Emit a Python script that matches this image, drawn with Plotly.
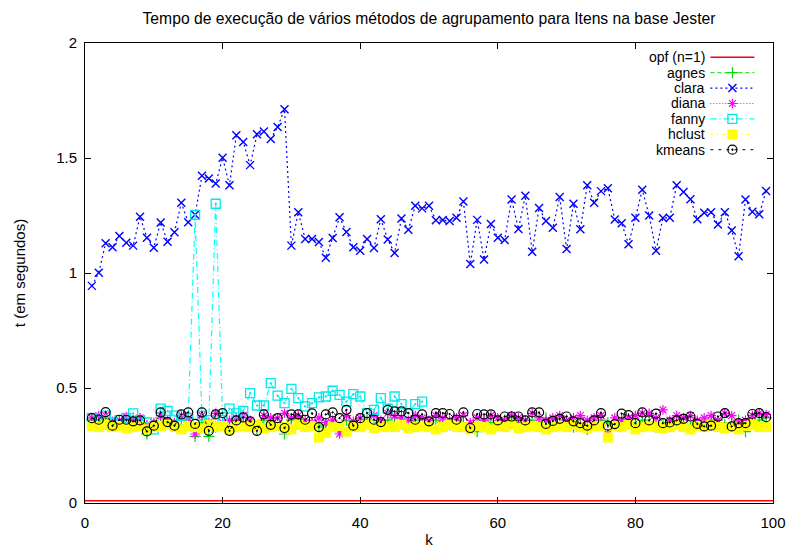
import plotly.graph_objects as go

# Execution time (seconds) of each clustering method, for k = 1..99
k = list(range(1, 100))

opf_time = 0.01  # opf (n=1) does not depend on k

clara = [0.944, 1.001, 1.129, 1.112, 1.161, 1.132, 1.119, 1.245, 1.153, 1.110,
         1.220, 1.136, 1.177, 1.305, 1.221, 1.253, 1.423, 1.411, 1.389, 1.501,
         1.382, 1.599, 1.570, 1.469, 1.603, 1.615, 1.583, 1.635, 1.712, 1.119,
         1.264, 1.148, 1.148, 1.135, 1.066, 1.152, 1.242, 1.178, 1.112, 1.097,
         1.148, 1.109, 1.234, 1.146, 1.087, 1.237, 1.188, 1.292, 1.281, 1.292,
         1.229, 1.230, 1.226, 1.240, 1.311, 1.039, 1.231, 1.059, 1.213, 1.153,
         1.143, 1.320, 1.191, 1.336, 1.092, 1.283, 1.226, 1.197, 1.330, 1.104,
         1.301, 1.190, 1.382, 1.305, 1.356, 1.368, 1.233, 1.216, 1.125, 1.240,
         1.362, 1.250, 1.097, 1.239, 1.240, 1.382, 1.352, 1.321, 1.234, 1.262,
         1.264, 1.211, 1.264, 1.185, 1.073, 1.320, 1.266, 1.255, 1.357]

agnes = [0.36, 0.35, 0.37, 0.34, 0.355, 0.35, 0.36, 0.35, 0.30, 0.34,
         0.37, 0.35, 0.34, 0.36, 0.37, 0.29, 0.35, 0.29, 0.33, 0.35,
         0.33, 0.36, 0.35, 0.34, 0.32, 0.36, 0.34, 0.35, 0.30, 0.36,
         0.37, 0.34, 0.35, 0.33, 0.34, 0.35, 0.31, 0.36, 0.34, 0.35,
         0.36, 0.33, 0.35, 0.36, 0.37, 0.35, 0.34, 0.36, 0.35, 0.34,
         0.36, 0.35, 0.34, 0.36, 0.35, 0.34, 0.31, 0.36, 0.35, 0.34,
         0.36, 0.37, 0.35, 0.34, 0.36, 0.35, 0.37, 0.34, 0.35, 0.36,
         0.33, 0.35, 0.32, 0.34, 0.36, 0.35, 0.34, 0.36, 0.35, 0.34,
         0.36, 0.35, 0.33, 0.34, 0.35, 0.36, 0.34, 0.33, 0.35, 0.34,
         0.36, 0.35, 0.34, 0.35, 0.36, 0.31, 0.35, 0.36, 0.37]

diana = [0.37, 0.38, 0.38, 0.355, 0.36, 0.375, 0.36, 0.37, 0.34, 0.35,
         0.38, 0.36, 0.35, 0.38, 0.37, 0.30, 0.38, 0.35, 0.39, 0.35,
         0.36, 0.37, 0.38, 0.36, 0.34, 0.38, 0.37, 0.37, 0.39, 0.37,
         0.38, 0.36, 0.35, 0.37, 0.35, 0.36, 0.30, 0.38, 0.355, 0.37,
         0.35, 0.38, 0.36, 0.39, 0.38, 0.37, 0.36, 0.38, 0.37, 0.36,
         0.38, 0.37, 0.36, 0.37, 0.38, 0.35, 0.37, 0.36, 0.38, 0.37,
         0.36, 0.38, 0.37, 0.36, 0.39, 0.37, 0.36, 0.37, 0.38, 0.36,
         0.37, 0.38, 0.36, 0.37, 0.38, 0.30, 0.37, 0.36, 0.37, 0.38,
         0.39, 0.39, 0.37, 0.405, 0.36, 0.38, 0.37, 0.38, 0.36, 0.37,
         0.38, 0.36, 0.39, 0.38, 0.35, 0.36, 0.38, 0.39, 0.385]

# fanny was only run up to k = 49
k_fanny = list(range(1, 50))
fanny = [0.37, 0.36, 0.38, 0.35, 0.36, 0.37, 0.39, 0.36, 0.35, 0.32,
         0.41, 0.40, 0.38, 0.36, 0.37, 1.253, 0.38, 0.36, 1.301, 0.36,
         0.41, 0.39, 0.40, 0.478, 0.424, 0.424, 0.521, 0.467, 0.434, 0.496,
         0.456, 0.42, 0.434, 0.459, 0.463, 0.488, 0.47, 0.441, 0.473, 0.463,
         0.391, 0.405, 0.456, 0.41, 0.463, 0.43, 0.391, 0.43, 0.441]

hclust = [0.335, 0.33, 0.34, 0.33, 0.335, 0.325, 0.33, 0.335, 0.32, 0.33,
          0.335, 0.34, 0.33, 0.32, 0.335, 0.33, 0.325, 0.34, 0.33, 0.335,
          0.32, 0.33, 0.335, 0.33, 0.34, 0.325, 0.33, 0.335, 0.33, 0.32,
          0.34, 0.33, 0.335, 0.285, 0.305, 0.33, 0.335, 0.31, 0.33, 0.33,
          0.34, 0.325, 0.335, 0.33, 0.33, 0.34, 0.325, 0.33, 0.335, 0.33,
          0.32, 0.33, 0.34, 0.33, 0.33, 0.32, 0.335, 0.33, 0.32, 0.335,
          0.33, 0.34, 0.325, 0.33, 0.335, 0.33, 0.32, 0.33, 0.335, 0.33,
          0.34, 0.33, 0.325, 0.335, 0.335, 0.285, 0.335, 0.33, 0.34, 0.32,
          0.33, 0.335, 0.33, 0.325, 0.33, 0.34, 0.33, 0.32, 0.335, 0.33,
          0.34, 0.33, 0.325, 0.33, 0.32, 0.335, 0.34, 0.33, 0.33]

kmeans = [0.369, 0.362, 0.395, 0.336, 0.362, 0.362, 0.355, 0.359, 0.311, 0.336,
          0.394, 0.352, 0.336, 0.385, 0.394, 0.344, 0.394, 0.314, 0.385, 0.391,
          0.314, 0.359, 0.372, 0.355, 0.314, 0.385, 0.340, 0.369, 0.326, 0.385,
          0.385, 0.362, 0.390, 0.330, 0.385, 0.394, 0.369, 0.405, 0.336, 0.369,
          0.391, 0.362, 0.352, 0.405, 0.398, 0.398, 0.391, 0.362, 0.385, 0.355,
          0.391, 0.391, 0.387, 0.362, 0.394, 0.326, 0.387, 0.385, 0.385, 0.359,
          0.376, 0.376, 0.376, 0.359, 0.394, 0.394, 0.344, 0.357, 0.366, 0.376,
          0.355, 0.347, 0.336, 0.359, 0.391, 0.336, 0.343, 0.389, 0.382, 0.347,
          0.394, 0.359, 0.389, 0.347, 0.350, 0.359, 0.366, 0.376, 0.344, 0.333,
          0.336, 0.376, 0.391, 0.333, 0.347, 0.347, 0.387, 0.391, 0.373]

legend_labels = ["opf (n=1)", "agnes", "clara", "diana", "fanny", "hclust", "kmeans"]

FONT = "Liberation Sans, Arial, sans-serif"

# Line/marker style for each method (gnuplot-like palette)
styles = {
    "opf (n=1)": dict(line=dict(color="#ff0000", width=1.5, dash="solid"), marker=None),
    "agnes": dict(line=dict(color="#00e000", width=1, dash="4px,3px"),
                  marker=dict(symbol="cross-thin-open", size=8, color="#00e000",
                              line=dict(color="#00e000", width=1.2))),
    "clara": dict(line=dict(color="#0000ff", width=1.2, dash="2px,3px"),
                  marker=dict(symbol="x-thin-open", size=8, color="#0000ff",
                              line=dict(color="#0000ff", width=1.4))),
    "diana": dict(line=dict(color="#ff00ff", width=1, dash="1px,2px"),
                  marker=dict(symbol="asterisk-open", size=8, color="#ff00ff",
                              line=dict(color="#ff00ff", width=1.2))),
    "fanny": dict(line=dict(color="#00ffff", width=1.2, dash="6px,3px,1px,3px"),
                  marker=dict(symbol="square-open-dot", size=9, color="#00e8e8",
                              line=dict(color="#00e8e8", width=1.3))),
    "hclust": dict(line=dict(color="#ffff00", width=1, dash="3px,4px,1px,4px"),
                   marker=dict(symbol="square", size=10, color="#ffff00",
                               line=dict(width=0))),
    "kmeans": dict(line=dict(color="#000000", width=1, dash="3px,5px"),
                   marker=dict(symbol="circle-open-dot", size=9, color="#000000",
                               line=dict(color="#000000", width=1.2))),
}

series = {
    "opf (n=1)": ([0, 100], [opf_time, opf_time]),
    "agnes": (k, agnes),
    "clara": (k, clara),
    "diana": (k, diana),
    "fanny": (k_fanny, fanny),
    "hclust": (k, hclust),
    "kmeans": (k, kmeans),
}

fig = go.Figure()

for name in legend_labels:
    xs, ys = series[name]
    st = styles[name]
    if st["marker"] is None:
        fig.add_trace(go.Scatter(x=xs, y=ys, mode="lines", line=st["line"],
                                 showlegend=False, hoverinfo="skip"))
    else:
        fig.add_trace(go.Scatter(x=xs, y=ys, mode="lines+markers", line=st["line"],
                                 marker=st["marker"], showlegend=False))

# Key in the top-right corner: label on the left, line sample on the right
row_top = 0.969
row_step = 0.0335
sample_x0, sample_x1 = 0.909, 0.973
for i, name in enumerate(legend_labels):
    yy = row_top - i * row_step
    st = styles[name]
    fig.add_trace(go.Scatter(x=[sample_x0, sample_x1], y=[yy, yy], mode="lines",
                             line=st["line"], xaxis="x2", yaxis="y2",
                             showlegend=False, hoverinfo="skip"))
    if st["marker"] is not None:
        fig.add_trace(go.Scatter(x=[(sample_x0 + sample_x1) / 2], y=[yy], mode="markers",
                                 marker=st["marker"], xaxis="x2", yaxis="y2",
                                 showlegend=False, hoverinfo="skip"))
    fig.add_annotation(text=name, x=0.902, y=yy, xref="paper", yref="paper",
                       xanchor="right", yanchor="middle", showarrow=False,
                       borderpad=0,
                       font=dict(family=FONT, size=14, color="#000000"))

axis_common = dict(showline=True, linecolor="#000000", linewidth=1, mirror="ticks",
                   ticks="inside", ticklen=6, tickcolor="#000000", tickwidth=1,
                   showgrid=False, zeroline=False, automargin=False,
                   tickfont=dict(family=FONT, size=15, color="#000000"))

fig.update_layout(
    width=791, height=553,
    margin=dict(l=85, r=18, t=43, b=50),
    paper_bgcolor="#ffffff", plot_bgcolor="#ffffff",
    title=dict(text="Tempo de execução de vários métodos de agrupamento para Itens na base Jester",
               x=0.5, xref="paper", y=0.967, yref="container", xanchor="center", yanchor="middle",
               font=dict(family=FONT, size=15.7, color="#000000"), automargin=False),
    xaxis=dict(range=[0, 100], tickvals=[0, 20, 40, 60, 80, 100], ticklabelstandoff=6,
               title=dict(text="k", font=dict(family=FONT, size=15, color="#000000"), standoff=4),
               **axis_common),
    yaxis=dict(range=[0, 2], tickvals=[0, 0.5, 1, 1.5, 2], ticktext=["0", "0.5", "1", "1.5", "2"],
               ticklabelstandoff=4,
               title=dict(text="t (em segundos)", font=dict(family=FONT, size=15, color="#000000"),
                          standoff=26),
               **axis_common),
    xaxis2=dict(domain=[0, 1], range=[0, 1], overlaying="x", visible=False, anchor="y2"),
    yaxis2=dict(domain=[0, 1], range=[0, 1], overlaying="y", visible=False, anchor="x2"),
    showlegend=False,
)

fig.write_html("out.html")
